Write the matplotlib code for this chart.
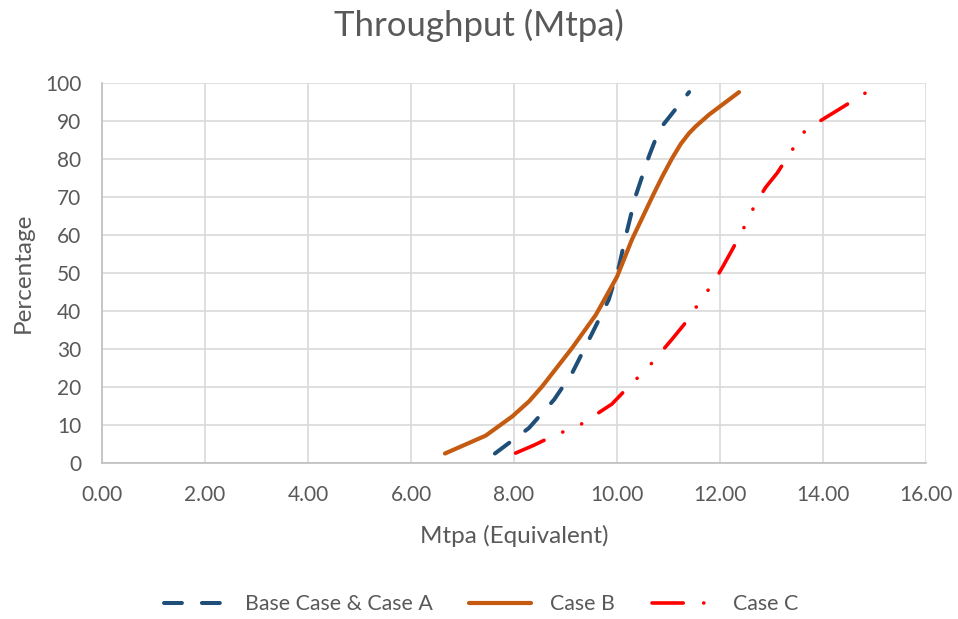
import matplotlib.pyplot as plt
from matplotlib.ticker import FormatStrFormatter, MultipleLocator

plt.rcParams['font.family'] = ['Lato', 'DejaVu Sans']
plt.rcParams['lines.scale_dashes'] = False

# values (Mtpa, percentage)
base_x = [7.63, 8.29, 8.78, 9.13, 9.52, 9.84, 10.04, 10.17, 10.36, 10.62, 10.82, 11.40]
base_y = [2.5, 9.2, 16.7, 23.7, 34.2, 43.0, 51.8, 59.7, 70.2, 80.7, 87.7, 97.6]

caseb_x = [6.66, 7.45, 7.97, 8.29, 8.55, 9.13, 9.59, 10.00, 10.29, 10.69, 10.88, 11.07,
           11.24, 11.40, 11.53, 11.79, 12.37]
caseb_y = [2.5, 7.2, 12.3, 16.2, 20.2, 30.3, 39.0, 49.0, 58.8, 70.2, 75.4, 80.2,
           84.0, 86.8, 88.6, 91.7, 97.6]

casec_x = [8.03, 8.39, 8.71, 9.29, 9.90, 10.14, 10.62, 11.07, 11.30, 11.66, 11.88, 12.06,
           12.24, 12.53, 12.69, 12.89, 13.11, 13.47, 13.66, 13.99, 14.28, 14.85]
casec_y = [2.6, 4.7, 6.8, 10.1, 15.5, 18.9, 25.4, 32.6, 36.4, 43.4, 47.6, 51.8,
           56.2, 63.6, 68.3, 72.6, 76.3, 83.8, 87.6, 90.4, 92.8, 97.6]

labels = ["Base Case & Case A", "Case B", "Case C"]
text_col = '#595959'

fig = plt.figure(figsize=(9.58, 6.19), dpi=100)
ax = fig.add_axes([102/958, 1 - 463/619, (926 - 102)/958, (463 - 83)/619])

ax.plot(base_x, base_y, color='#1F4E79', lw=2.9, dashes=(12.9, 14.4),
        dash_capstyle='round', solid_capstyle='round', label=labels[0])
ax.plot(caseb_x, caseb_y, color='#C55A11', lw=3.0,
        solid_capstyle='round', solid_joinstyle='round', label=labels[1])
ax.plot(casec_x, casec_y, color='#FF0000', lw=2.6,
        dashes=(22.5, 14.7, 0.1, 14.7, 0.1, 14.7),
        dash_capstyle='round', label=labels[2])

ax.set_xlim(0, 16)
ax.set_ylim(0, 100)
ax.xaxis.set_major_locator(MultipleLocator(2))
ax.yaxis.set_major_locator(MultipleLocator(10))
ax.xaxis.set_major_formatter(FormatStrFormatter('%.2f'))
ax.grid(True, color='#D9D9D9', lw=1.2)
ax.set_axisbelow(True)
ax.tick_params(length=0, labelsize=15, labelcolor=text_col)
ax.tick_params(axis='x', pad=16)
ax.tick_params(axis='y', pad=15)

for side in ['top', 'right']:
    ax.spines[side].set_visible(False)
for side in ['left', 'bottom']:
    ax.spines[side].set_color('#BFBFBF')
    ax.spines[side].set_linewidth(1.2)

ax.set_xlabel("Mtpa (Equivalent)", fontsize=17.5, color=text_col, labelpad=14)
ax.set_ylabel("Percentage", fontsize=17.5, color=text_col, labelpad=8)
fig.suptitle("Throughput (Mtpa)", fontsize=25, color=text_col, y=0.985)

fig.legend(loc='center', bbox_to_anchor=(0.502, 1 - 604/619), ncol=3, frameon=False,
           fontsize=15.4, labelcolor=text_col, handlelength=2.9, handletextpad=0.9,
           columnspacing=1.7)

fig.savefig('out.png', dpi=100)
